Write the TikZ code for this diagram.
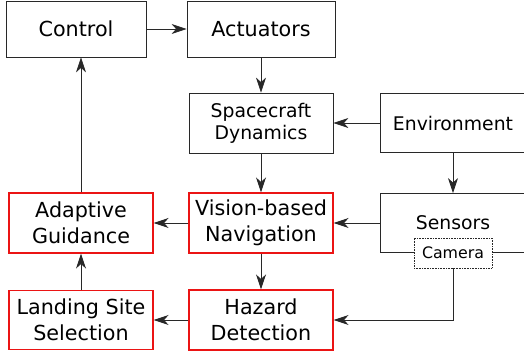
\documentclass[tikz,border=0pt]{standalone}
\usepackage{fontspec}
\setmainfont{DejaVu Sans}
\usetikzlibrary{arrows.meta}

\definecolor{boxred}{RGB}{235,20,20}
\definecolor{linegray}{RGB}{40,40,40}

\tikzset{
  block/.style={draw=linegray, text=black, line width=0.8pt, minimum width=144pt,
    minimum height=60pt, align=center, font=\fontsize{20.7}{26}\selectfont},
  redblock/.style={block, draw=boxred, line width=1.1pt},
  smallblock/.style={block, font=\fontsize{18.8}{22}\selectfont},
  cambox/.style={draw=linegray, densely dotted, line width=0.6pt, fill=white,
    minimum width=78pt, minimum height=30pt, font=\fontsize{15.8}{18}\selectfont},
  flow/.style={draw=linegray, line width=0.8pt,
    -{Stealth[length=15pt,width=10pt,inset=4.5pt]}}
}

\begin{document}
\begin{tikzpicture}[x=1pt,y=1pt]
\useasboundingbox (0,0) rectangle (524,355);
\clip (0,0) rectangle (524,355);

\def\xa{81}
\def\xb{261}
\def\xc{453}

\def\ya{326}
\def\yb{232}
\def\yc{132}
\def\yd{35}

\node[block, minimum width=140pt, minimum height=56pt] (ctrl) at (76, \ya) {Control};
\node[block, minimum width=148pt, minimum height=56pt] (act) at (\xb, \ya) {Actuators};
\node[smallblock] (dyn) at (\xb, \yb) {Spacecraft\\Dynamics};
\node[smallblock, minimum width=146pt, minimum height=59pt] (env) at (\xc, \yb) {Environment};
\node[smallblock, minimum width=146pt, minimum height=59pt] (sens) at (\xc, \yc) {Sensors};
\node[cambox] (cam) at (sens.south) {Camera};
\node[redblock] (vbn) at (\xb, \yc) {Vision-based\\Navigation};
\node[redblock] (guid) at (\xa, \yc) {Adaptive\\Guidance};
\node[redblock] (haz) at (\xb, \yd) {Hazard\\Detection};
\node[redblock, minimum height=59pt] (site) at (\xa, \yd) {Landing Site\\Selection};

\draw[flow] (ctrl.east) -- (ctrl.east -| act.west);
\draw[flow] (act) -- (dyn);
\draw[flow] (env) -- (dyn);
\draw[flow] (env) -- (sens);
\draw[flow] (dyn) -- (vbn);
\draw[flow] (sens) -- (vbn);
\draw[flow] (vbn) -- (guid);
\draw[flow] (vbn) -- (haz);
\draw[flow] (cam.south) |- (haz.east);
\draw[flow] (haz) -- (site);
\draw[flow] (site) -- (guid);
\draw[flow] (guid.north) -- (guid.north |- ctrl.south);
\end{tikzpicture}
\end{document}
